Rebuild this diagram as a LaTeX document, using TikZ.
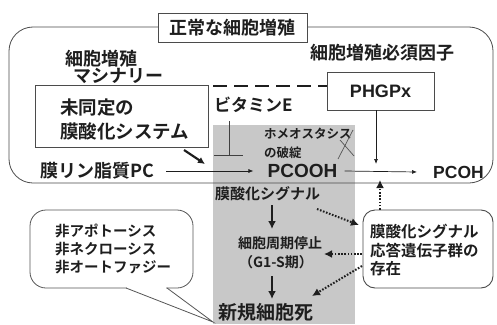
\documentclass[tikz,border=0pt]{standalone}
\usepackage{fontspec}
\setmainfont{Noto Sans CJK JP}[BoldFont={Noto Sans CJK JP Bold}]
\newfontfamily\latinf{Liberation Sans}
\usetikzlibrary{arrows.meta}
\definecolor{lgray}{RGB}{200,200,200}
\definecolor{ink}{RGB}{30,30,30}
\tikzset{
  txt/.style={inner sep=0pt, anchor=west, text=ink},
  fs/.style={font=\fontsize{#1}{#1}\selectfont\bfseries},
  thinarrow/.style={draw=ink, line width=0.7pt, -{Latex[length=5pt,width=4pt]}},
  thickarrow/.style={draw=ink, line width=2.2pt, -{Latex[length=8pt,width=8pt]}},
  dotarrow/.style={draw=ink, line width=2pt, dash pattern=on 1.6pt off 1.6pt, -{Latex[length=8pt,width=8pt]}},
  boxline/.style={draw=ink!80, line width=0.8pt},
}
\begin{document}
\begin{tikzpicture}[x=1pt,y=-1pt]
\useasboundingbox (0,0) rectangle (497,324);
% gray region
\fill[lgray] (213,125) rectangle (355,324);
% big rounded frame
\draw[boxline, rounded corners=24] (9,27) rectangle (493,183);
% title
\node[boxline, fill=white, minimum width=149pt, minimum height=29pt, inner sep=0pt, fs=18, text=ink] (title) at (232.5,27.5) {正常な細胞増殖};
% left labels
\node[txt, fs=18] (mach1) at (65,59) {細胞増殖};
\node[txt, fs=18] (mach2) at (73,76) {マシナリー};
% unidentified system box
\node[boxline, fill=white, minimum width=173pt, minimum height=62pt, inner sep=0pt] (mbox) at (121.5,116.5) {};
\node[txt, fs=18.5] (mb1) at (60,108) {未同定の};
\node[txt, fs=18.5] (mb2) at (60,131) {膜酸化システム};
% PHGPx
\node[txt, fs=18] (ess) at (310,53) {細胞増殖必須因子};
\node[boxline, fill=white, minimum width=107pt, minimum height=38pt, inner sep=0pt, font=\latinf\bfseries\fontsize{18}{18}\selectfont, text=ink] (phgpx) at (380.5,91) {PHGPx};
\coordinate (dstart) at (213,86);
\draw[draw=ink, line width=2.5pt, dash pattern=on 14pt off 7pt] (dstart) -- (dstart -| phgpx.west);
% vitamin E
\node[txt, fs=17] (vitE) at (214,105) {ビタミンE};
\coordinate (tTop) at (229,121);
\coordinate (tBot) at (229,155);
\coordinate (tL) at (214,155);
\coordinate (tR) at (243,155);
\draw[draw=ink!85, line width=0.8pt] (tTop) -- (tBot);
\draw[draw=ink!85, line width=0.8pt] (tL) -- (tR);
% homeostasis
\node[txt, fs=12.5] (homeo1) at (264,134) {ホメオスタシス};
\node[txt, fs=12.5] (homeo2) at (264,153) {の破綻};
\coordinate (xa1) at (338,159);
\coordinate (xa2) at (353,130);
\coordinate (xb1) at (340,140);
\coordinate (xb2) at (354,156);
\draw[draw=ink!75, line width=0.7pt] (xa1) -- (xa2);
\draw[draw=ink!75, line width=0.7pt] (xb1) -- (xb2);
% main reaction line
\node[txt, fs=18] (pc) at (40,171) {膜リン脂質PC};
\node[inner sep=0pt, font=\latinf\bfseries\fontsize{19}{19}\selectfont, text=ink] (pcooh) at (302.5,171) {PCOOH};
\node[inner sep=0pt, font=\latinf\bfseries\fontsize{17.5}{17.5}\selectfont, text=ink] (pcoh) at (458.5,172) {PCOH};
\draw[thinarrow] ([xshift=12pt]pc.east) -- ([xshift=-14pt]pcooh.west);
\draw[thinarrow] ([xshift=7pt]pcooh.east) -- ([xshift=-16pt]pcoh.west);
\coordinate (phgEnd) at (376,164);
\draw[thinarrow] (phgpx.south -| phgEnd) -- (phgEnd);
% thick arrow from system
\coordinate (sysStart) at (184,150);
\coordinate (sysEnd) at (205,164);
\draw[thickarrow, -{Latex[length=7pt,width=7pt]}] (sysStart) -- (sysEnd);
% gray column content
\node[inner sep=0pt, fs=15, text=ink] (sig) at (267.5,194) {膜酸化シグナル};
\node[inner sep=0pt, fs=14, text=ink] (arrest1) at (280,243) {細胞周期停止};
\node[inner sep=0pt, fs=14, text=ink] (arrest2) at (276,262) {（G1-S期）};
\node[inner sep=0pt, fs=19, text=ink] (death) at (265.5,312) {新規細胞死};
\coordinate (a1s) at (272,205);
\coordinate (a1e) at (272,229);
\coordinate (a2s) at (272,276);
\coordinate (a2e) at (272,299);
\draw[thickarrow] (a1s) -- (a1e);
\draw[thickarrow] (a2s) -- (a2e);
% right response box
\node[draw=ink!80, line width=0.9pt, fill=white, rounded corners=12pt, minimum width=130pt, minimum height=78pt, inner sep=0pt] (rbox) at (428,249) {};
\node[txt, fs=15.5] (r1) at (370,232) {膜酸化シグナル};
\node[txt, fs=15.5] (r2) at (370,251) {応答遺伝子群の};
\node[txt, fs=15.5] (r3) at (370,269) {存在};
% dotted arrows
\coordinate (d1s) at (317,209);
\coordinate (d1e) at (359,225);
\draw[dotarrow] (d1s) -- (d1e);
\coordinate (d2s) at (362,254);
\coordinate (d2e) at (324,254);
\draw[dotarrow] (d2s) -- (d2e);
\coordinate (d3s) at (362,266);
\coordinate (d3e) at (312,296);
\draw[dotarrow] (d3s) -- (d3e);
\coordinate (d4e) at (380,180);
\draw[dotarrow] (rbox.north -| d4e) -- (d4e);
% speech bubble
\draw[draw=ink!75, line width=0.8pt, fill=white, rounded corners=16pt] (30,210) rectangle (193,288);
\fill[white] (127,286) -- (166,286) -- (166,290) -- (213,322) -- (127,290) -- cycle;
\coordinate (tailL) at (126,288);
\coordinate (tailR) at (167,288);
\coordinate (tailTip) at (213,322);
\draw[draw=ink!75, line width=0.8pt] (tailL) -- (tailTip) -- (tailR);
\node[txt, fs=14.5] (b1) at (55,231) {非アポトーシス};
\node[txt, fs=14.5] (b2) at (55,249) {非ネクローシス};
\node[txt, fs=14.5] (b3) at (55,267) {非オートファジー};
\end{tikzpicture}
\end{document}
